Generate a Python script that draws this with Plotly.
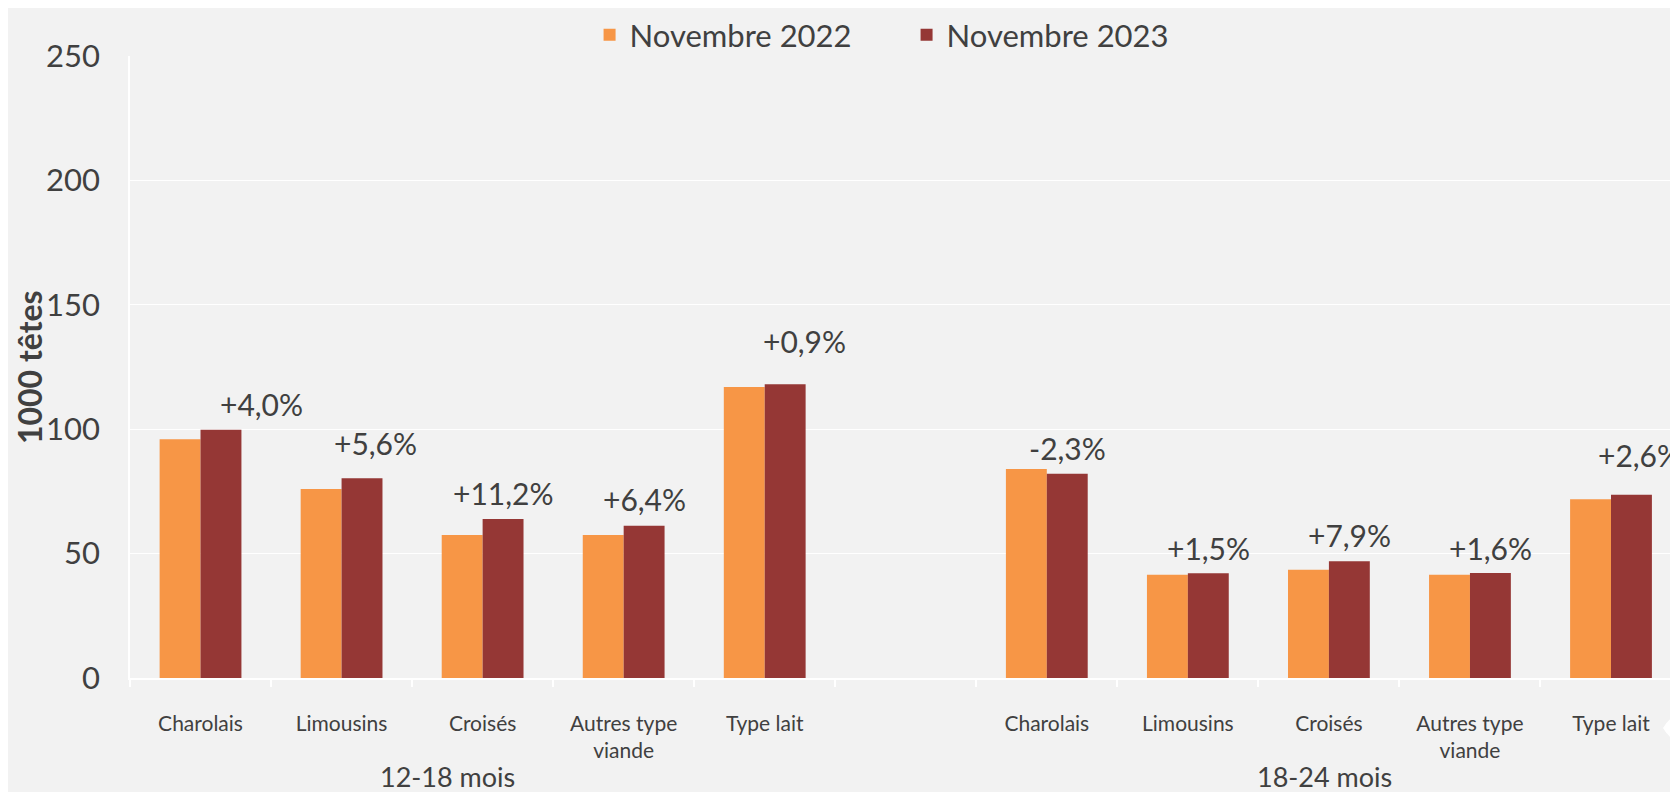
import plotly.graph_objects as go

# ---- data ----
categories = ["Charolais", "Limousins", "Croisés", "Autres type<br>viande", "Type lait"]
groups = ["12-18 mois", "18-24 mois"]
nov2022_12_18 = [96.0, 76.0, 57.5, 57.5, 117.0]
nov2023_12_18 = [99.8, 80.3, 63.9, 61.2, 118.1]
nov2022_18_24 = [84.0, 41.5, 43.5, 41.5, 71.8]
nov2023_18_24 = [82.1, 42.1, 46.9, 42.2, 73.7]
labels_12_18 = ["+4,0%", "+5,6%", "+11,2%", "+6,4%", "+0,9%"]
labels_18_24 = ["-2,3%", "+1,5%", "+7,9%", "+1,6%", "+2,6%"]
y_ticks = [0, 50, 100, 150, 200, 250]

# ---- style ----
ORANGE = "#F79646"
RED = "#953735"
TXT = "#404040"
BG = "#F2F2F2"
FONT = "Lato"
BARGAP = 0.42

# label nudges (pixels) relative to the 2023 bar top/centre
label_dx = [41, 13, 0, 0, 19, 0, 0, 0, 0, 8]
label_dy = [26, 35, 26, 27, 43, 26, 25, 26, 25, 40]

n = len(categories)
x_pos = list(range(n)) + list(range(n + 1, 2 * n + 1))
ticktext = categories + categories
v2022 = nov2022_12_18 + nov2022_18_24
v2023 = nov2023_12_18 + nov2023_18_24
pct = labels_12_18 + labels_18_24

fig = go.Figure()
fig.add_trace(go.Bar(x=x_pos, y=v2022, name="Novembre 2022", marker_color=ORANGE,
                     marker_line_width=0))
fig.add_trace(go.Bar(x=x_pos, y=v2023, name="Novembre 2023", marker_color=RED,
                     marker_line_width=0))

annotations = []
for i, (xp, v, t) in enumerate(zip(x_pos, v2023, pct)):
    annotations.append(dict(x=xp + (1 - BARGAP) / 4, y=v, xref="x", yref="y", text=t,
                            showarrow=False, xanchor="center", yanchor="middle",
                            xshift=label_dx[i], yshift=label_dy[i],
                            font=dict(family=FONT, size=30, color=TXT)))

group_x = [1.75, 7.97]
for gx, g in zip(group_x, groups):
    annotations.append(dict(x=gx, y=0, xref="x", yref="paper", text=g, showarrow=False,
                            xanchor="center", yanchor="middle", yshift=-98,
                            font=dict(family=FONT, size=27, color=TXT)))

annotations.append(dict(x=-0.0652, y=0.5, xref="paper", yref="paper", text="<b>1000 têtes</b>",
                        textangle=-90, showarrow=False, xanchor="center", yanchor="middle",
                        font=dict(family=FONT, size=32, color=TXT)))

boundaries = [i - 0.5 for i in range(2 * n + 2)]

# white pointer shape at the bottom-right corner (paper coords)
shape_path = "M 0.9903,-0.0804 Q 0.996,-0.056 1.008,-0.053 L 1.008,-0.108 Q 0.996,-0.105 0.9903,-0.0804 Z"

fig.update_layout(
    width=1678, height=792,
    paper_bgcolor=BG, plot_bgcolor=BG,
    margin=dict(l=122, r=8, t=48, b=122, autoexpand=False),
    barmode="group", bargap=BARGAP, bargroupgap=0,
    showlegend=True,
    legend=dict(orientation="h", xref="container", x=0.5355, xanchor="center",
                yref="container", y=1.0, yanchor="top",
                font=dict(family=FONT, size=31, color=TXT), itemwidth=30,
                entrywidth=272, borderwidth=0,
                bgcolor="rgba(0,0,0,0)"),
    annotations=annotations,
    shapes=[dict(type="path", path=shape_path, xref="paper", yref="paper",
                 fillcolor="white", line_width=0, layer="above")],
    font=dict(family=FONT, color=TXT),
)

fig.update_xaxes(range=[-0.5, 10.475], tickmode="array", tickvals=x_pos, ticktext=ticktext,
                 ticks="", showgrid=False, zeroline=False, showline=True, automargin=False,
                 linecolor="white", linewidth=1.5,
                 tickfont=dict(family=FONT, size=21, color=TXT), ticklabelstandoff=26,
                 minor=dict(tickmode="array", tickvals=boundaries, ticks="outside",
                            ticklen=7, tickcolor="white", tickwidth=1.5, showgrid=False))
fig.update_yaxes(range=[0, 250], tickmode="array", tickvals=y_ticks, showgrid=True,
                 gridcolor="white", gridwidth=1, zeroline=False, showline=True, automargin=False,
                 linecolor="white", linewidth=1.5, ticks="",
                 tickfont=dict(family=FONT, size=31, color=TXT), ticklabelstandoff=22)

fig.write_html("out.html")
